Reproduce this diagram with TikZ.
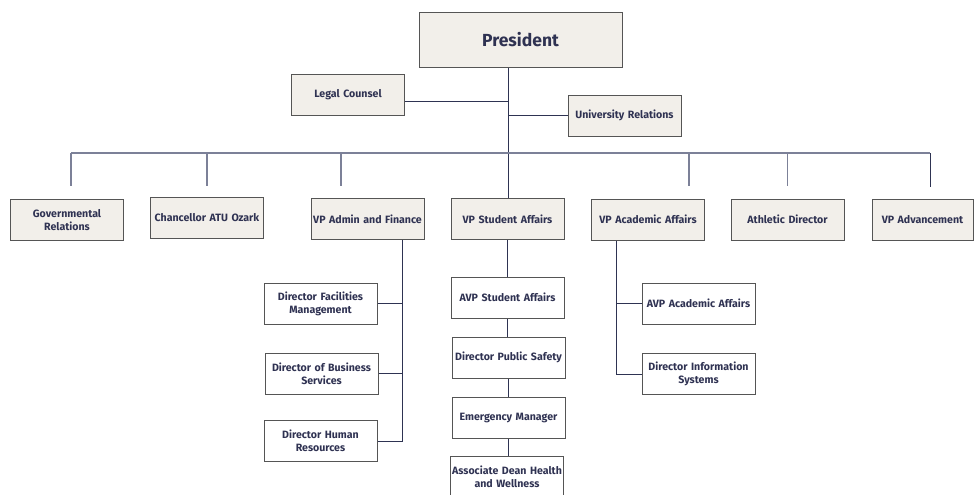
\documentclass[tikz,border=0pt]{standalone}
\usepackage{fontspec}
\setmainfont{Fira Sans}
\usepackage{tikz}
\pgfdeclarelayer{bg}
\pgfsetlayers{bg,main}
\definecolor{boxfill}{HTML}{F2EFEA}
\definecolor{boxline}{HTML}{555555}
\definecolor{ink}{HTML}{2F3252}
\definecolor{wire}{HTML}{2E3352}
\definecolor{buswire}{HTML}{7C8198}
\tikzset{
    every node/.style={rectangle, draw=boxline, line width=0.9pt, fill=boxfill, text=ink,
        font=\fontsize{10.6}{13}\selectfont\bfseries, align=center,
        minimum width=113pt, minimum height=41pt, inner sep=1pt, text width=111pt}
}
\tikzset{subbox/.style={fill=white}}
\tikzset{link/.style={draw=wire, line width=0.9pt}}
\tikzset{buslink/.style={draw=buswire, line width=1.1pt}}

\begin{document}
\begin{tikzpicture}[x=1pt, y=-1pt]
        \useasboundingbox (0,0) rectangle (974,495);
        \clip (0,0) rectangle (974,495);
        \node (pres) [minimum width=203pt, minimum height=55pt, text width=200pt,
            font=\fontsize{17.5}{20}\selectfont\bfseries] at (520.5, 39.5) {President};
        \node (legal) at (348, 95) {Legal Counsel};
        \node (urel) at (624.5, 115.5) {University Relations};
        \node (gov) at (67, 220) {Governmental\\Relations};
        \node (chanc) at (207, 217.5) {Chancellor ATU Ozark};
        \node (vpaf) at (367.5, 219) {VP Admin and Finance};
        \node (vpsa) at (507.5, 219) {VP Student Affairs};
        \node (vpaa) at (648, 219.5) {VP Academic Affairs};
        \node (ath) at (787.5, 219.5) {Athletic Director};
        \node (vpadv) [minimum width=101pt, text width=99pt] at (922.5, 219.5) {VP Advancement};
        \node (dfm) [subbox] at (320.5, 303.5) {Director Facilities\\Management};
        \node (dbs) [subbox] at (321.5, 373.5) {Director of Business\\Services};
        \node (dhr) [subbox] at (320.5, 441) {Director Human\\Resources};
        \node (avpsa) [subbox] at (507.5, 297.5) {AVP Student Affairs};
        \node (dps) [subbox] at (508.5, 357.5) {Director Public Safety};
        \node (em) [subbox] at (508.5, 417.5) {Emergency Manager};
        \node (adh) [subbox] at (507, 477) {Associate Dean Health\\and Wellness};
        \node (avpaa) [subbox] at (698.5, 303.5) {AVP Academic Affairs};
        \node (dis) [subbox] at (698.5, 374) {Director Information\\Systems};
        \coordinate (bus) at (508, 153);
        \coordinate (afspine) at (402, 240);
        \coordinate (aaspine) at (616, 240);
        \begin{pgfonlayer}{bg}
                \draw[link] (pres.south -| bus) -- (vpsa.north -| bus);
                \draw[link] ([yshift=-6]legal.east) -- ([yshift=-6]legal.east -| bus);
                \draw[link] (urel.west) -- (urel.west -| bus);
                \draw[buslink] (71, 153) -- (930, 153);
                \draw[buslink] (71, 153) -- (71, 186);
                \draw[buslink] (chanc.north |- bus) -- ([yshift=11]chanc.north);
                \draw[buslink] (341, 153) -- (341, 186);
                \draw[buslink] (689, 153) -- (689, 186);
                \draw[buslink] (ath.north |- bus) -- ([yshift=13]ath.north);
                \draw[link] (930, 153) -- (930, 187);
                \draw[link] (afspine) -- (afspine |- dhr.east) -- (dhr.east);
                \draw[link] (dfm.east) -- (dfm.east -| afspine);
                \draw[link] (dbs.east) -- (dbs.east -| afspine);
                \draw[link] (vpsa.south) -- (avpsa.north);
                \draw[link] (avpsa.south) -- (dps.north -| avpsa.south);
                \draw[link] (dps.south) -- (em.north);
                \draw[link] (em.south) -- (adh.north -| em.south);
                \draw[link] (aaspine) -- (aaspine |- dis.west) -- (dis.west);
                \draw[link] (avpaa.west) -- (avpaa.west -| aaspine);
        \end{pgfonlayer}
\end{tikzpicture}
\end{document}
